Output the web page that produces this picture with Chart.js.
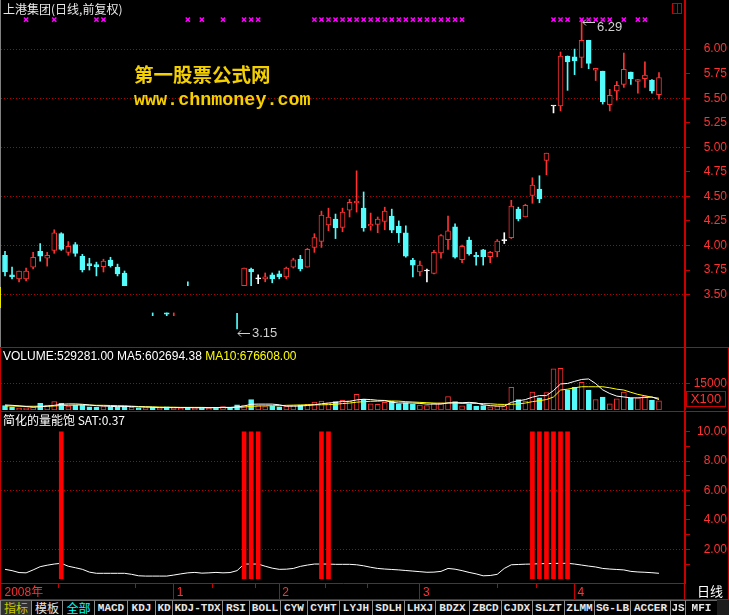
<!DOCTYPE html>
<html>
<head>
<meta charset="utf-8">
<script src="https://cdn.jsdelivr.net/npm/chart.js@4/dist/chart.umd.min.js"></script>
<style>
body{margin:0;background:#000;width:729px;height:615px;overflow:hidden;position:relative;font-family:"Liberation Sans",Arial,sans-serif}
canvas{position:absolute;left:0}
.t{position:absolute;white-space:nowrap;font-size:12px;color:#fff;line-height:14px}
.cjk{font-family:"Noto Sans CJK SC","Liberation Sans",sans-serif}
.ln{position:absolute;background:#c80000}
#bar{position:absolute;left:0;top:600px;height:15px;width:729px;background:#1c1c1c;display:flex}
#bar span{box-sizing:border-box;height:15px;border-left:1px solid #8a8a8a;border-top:1px solid #6a6a6a;background:#000;color:#e6e6e6;
  font:bold 11px "Liberation Mono",monospace;text-align:center;line-height:14px;white-space:nowrap;overflow:hidden}
#bar span.c{font:12px "Noto Sans CJK SC",sans-serif;line-height:14px}
</style>
</head>
<body>
<canvas id="cp" width="729" height="347" style="top:0;width:729px;height:347px"></canvas>
<canvas id="cv" width="729" height="63" style="top:347px;width:729px;height:63px"></canvas>
<canvas id="cs" width="729" height="189" style="top:411px;width:729px;height:189px"></canvas>

<!-- frame -->
<div class="ln" style="left:684px;top:0;width:1px;height:600px"></div>
<div class="ln" style="left:0;top:347px;width:729px;height:1px"></div>
<div class="ln" style="left:0;top:411px;width:729px;height:1px"></div>
<div class="ln" style="left:0;top:599px;width:729px;height:1px"></div>
<div class="ln" style="left:0;top:347px;width:1px;height:253px"></div>
<div class="ln" style="left:728px;top:347px;width:1px;height:253px"></div>
<div style="position:absolute;left:0;top:0;width:1px;height:347px;background:#808080"></div>
<div style="position:absolute;left:0;top:287px;width:1px;height:21px;background:#e8e800"></div>
<div style="position:absolute;left:672px;top:3px;width:8px;height:9px;border:1px solid #c80000"></div>
<div class="ln" style="left:677px;top:3px;width:1px;height:10px"></div>

<!-- texts -->
<div class="t cjk" style="left:3px;top:2px;color:#e8e8e8">上港集团(日线,前复权)</div>
<div class="t cjk" style="left:134px;top:63px;font-size:19.5px;line-height:22px;font-weight:bold;color:#f4d000">第一股票公式网</div>
<div class="t" style="left:134px;top:91px;font:bold 18.4px 'Liberation Mono',monospace;line-height:20px;color:#f4d000">www.chnmoney.com</div>
<div class="t" style="left:3px;top:349px">VOLUME:529281.00 MA5:602694.38 <span style="color:#ffff00">MA10:676608.00</span></div>
<div class="t cjk" style="left:3px;top:413px">简化的量能饱 SAT:0.37</div>
<div class="t" style="left:686px;top:391px;width:38px;height:14px;border:1px solid #c80000;color:#ff3232;font-size:13px;text-align:center">X100</div>
<div class="t cjk" style="left:697px;top:584px;font-size:13px">日线</div>

<div id="bar"></div>

<script>
// ---- data ----
const open  = [3.90,3.70,3.66,3.66,3.78,3.94,3.87,3.95,4.12,3.93,4.01,3.89,3.815,3.805,3.785,3.85,3.78,3.72,
  null,null,null,null,null,3.313,null,null,null,null,null,null,null,null,null,null,
  3.59,3.76,3.66,3.66,3.70,3.71,3.68,3.78,3.86,3.78,3.98,4.04,4.21,4.27,4.185,4.36,4.435,4.38,4.20,4.215,4.245,4.30,4.195,4.13,
  3.85,3.73,3.74,3.715,3.925,4.06,4.19,3.855,4.055,3.90,3.955,3.885,3.935,4.05,4.08,4.37,4.29,4.51,4.575,4.865,
  5.42,5.42,5.93,5.92,5.915,6.09,5.785,5.775,5.435,5.575,5.64,5.765,5.67,5.70,5.685,5.535];
const high  = [3.94,3.78,3.74,3.77,3.93,4.02,3.93,4.16,4.13,4.04,4.03,3.91,3.87,3.83,3.86,3.88,3.81,3.74,
  null,null,null,3.313,null,3.313,3.313,null,3.63,null,null,null,null,null,null,3.31,
  3.77,3.77,3.70,3.72,3.72,3.74,3.78,3.87,3.90,3.97,4.12,4.35,4.38,4.32,4.38,4.47,4.76,4.545,4.33,4.29,4.39,4.37,4.25,4.20,
  3.87,3.84,3.76,3.95,4.11,4.30,4.22,4.005,4.085,3.93,3.96,3.94,4.06,4.13,4.46,4.39,4.42,4.69,4.71,4.94,
  5.42,5.97,5.93,6.00,6.29,6.09,5.805,5.775,5.59,5.67,5.96,5.765,5.69,5.87,5.69,5.76];
const low   = [3.69,3.66,3.63,3.64,3.76,3.84,3.79,3.92,3.95,3.90,3.89,3.73,3.75,3.69,3.73,3.78,3.69,3.59,
  null,null,null,3.285,null,3.285,3.285,null,3.59,null,null,null,null,null,null,3.15,
  3.59,3.59,3.61,3.63,3.62,3.66,3.66,3.77,3.74,3.78,3.93,3.98,4.15,4.07,4.14,4.29,4.34,4.145,4.155,4.13,4.16,4.13,4.03,3.88,
  3.68,3.69,3.63,3.71,3.87,3.96,3.87,3.825,3.90,3.80,3.80,3.825,3.885,4.02,4.07,4.25,4.29,4.43,4.435,4.72,
  5.35,5.37,5.58,5.74,5.81,5.80,5.68,5.44,5.37,5.48,5.61,5.64,5.55,5.61,5.55,5.49];
const close = [3.73,3.68,3.74,3.74,3.88,3.89,3.90,4.13,3.96,3.99,3.92,3.75,3.795,3.785,3.84,3.795,3.71,3.59,
  null,null,null,null,null,3.30,null,null,null,null,null,null,null,null,null,null,
  3.77,3.73,3.66,3.68,3.66,3.68,3.77,3.855,3.76,3.96,4.08,4.31,4.29,4.18,4.34,4.44,4.45,4.18,4.215,4.27,4.35,4.155,4.13,3.89,
  3.80,3.80,3.74,3.93,4.10,4.15,3.88,3.99,3.915,3.885,3.885,3.93,4.045,4.05,4.40,4.27,4.41,4.615,4.475,4.94,
  5.42,5.93,5.87,5.88,6.09,5.855,5.805,5.465,5.53,5.63,5.795,5.70,5.69,5.735,5.575,5.71];
// candles with only a tick visible: 1 = up (red), -1 = down (cyan)
const gapDir = {18:1,19:-1,20:1,21:-1,22:1,23:-1,24:1,25:1,26:-1,27:1,28:-1,29:1,30:-1,31:1,32:-1,33:-1};

const vol = [260e3,150e3,110e3,120e3,180e3,380e3,280e3,480e3,380e3,220e3,280e3,300e3,180e3,170e3,200e3,190e3,200e3,240e3,
  150e3,120e3,140e3,150e3,120e3,180e3,130e3,100e3,160e3,120e3,130e3,110e3,140e3,200e3,150e3,300e3,
  280e3,600e3,250e3,200e3,220e3,180e3,230e3,250e3,280e3,320e3,450e3,520e3,420e3,480e3,560e3,530e3,910e3,620e3,350e3,330e3,440e3,500e3,360e3,420e3,
  340e3,280e3,250e3,380e3,420e3,770e3,480e3,240e3,330e3,220e3,250e3,180e3,230e3,240e3,1300e3,600e3,520e3,1030e3,700e3,1000e3,
  2370e3,2400e3,1160e3,1300e3,1600e3,1150e3,600e3,750e3,350e3,650e3,1030e3,700e3,700e3,800e3,550e3,529281];
const ma5 = [290,270,240,200,160,190,220,270,330,350,350,330,290,250,230,210,190,200,200,180,170,160,140,140,140,140,140,130,130,130,140,150,150,180,
  230,330,340,340,340,300,220,220,230,260,300,360,400,440,490,500,580,620,600,560,550,450,400,410,
  400,380,340,340,340,410,420,420,440,410,300,250,230,220,440,530,600,740,830,830,
  1120,1500,1530,1650,1760,1790,1520,1160,950,800,750,700,700,720,750,602.694].map(v => v * 1000);
const ma10 = [230,230,220,215,215,220,220,230,260,270,280,290,280,270,270,260,250,240,220,200,190,180,170,160,160,150,150,150,150,140,140,140,140,150,
  170,210,230,240,250,250,270,280,290,300,300,300,310,330,370,400,450,480,500,510,530,520,510,480,
  460,440,420,400,390,400,410,380,390,380,370,360,330,320,330,350,400,480,540,600,
  750,1150,1200,1280,1340,1340,1340,1340,1280,1200,1150,1020,900,820,740,676.608].map(v => v * 1000);

const sat = [0.64,0.55,0.42,0.40,0.60,0.82,0.92,1.00,1.05,0.85,0.75,0.64,0.45,0.37,0.37,0.37,0.37,0.37,0.30,0.20,
  0.18,0.18,0.18,0.18,0.25,0.33,0.40,0.43,0.38,0.40,0.43,0.40,0.42,0.55,1.00,1.00,1.00,0.85,0.72,0.64,
  0.65,0.70,0.84,0.93,1.00,1.00,1.00,0.98,0.98,0.98,0.95,0.88,0.78,0.70,0.66,0.63,0.60,0.56,0.52,0.48,
  0.44,0.45,0.50,0.70,0.65,0.55,0.43,0.33,0.20,0.22,0.30,0.70,0.95,0.97,0.99,1.00,1.02,1.03,1.04,1.05,
  1.05,1.00,0.93,0.86,0.80,0.70,0.66,0.63,0.60,0.50,0.46,0.44,0.41,0.37];
const satHits = [8,34,35,36,45,46,75,76,77,78,79,80];
const satHitValue = 10;

const signalIdx = [3,7,13,14,26,28,31,34,35,36,44,45,46,47,48,49,50,51,52,53,54,55,56,57,58,59,60,61,62,63,64,65,
  78,79,80,82,83,84,85,86,88,90,91];
const signalLevel = 6.30;

const priceTicks = [3.5,3.625,3.75,3.875,4,4.125,4.25,4.375,4.5,4.625,4.75,4.875,5,5.125,5.25,5.375,5.5,5.625,5.75,5.875,6];
const volTicks = [1500000];
const satTicks = [1,2,3,4,5,6,7,8,9,10];
const monthTicks = [-0.5,24,39,59,81];
const monthLabels = ['2008年','1','2','3','4'];
const minorTicks = [7.5,18.5,29.5,35.5,45.5,51.5,70,75.5];
const hiNote = {i:82, v:6.29};
const loNote = {i:33, v:3.15};
const tabs = ['指标','模板','全部','MACD','KDJ','KD','KDJ-TDX','RSI','BOLL','CYW','CYHT','LYJH','SDLH','LHXJ','BDZX','ZBCD','CJDX','SLZT','ZLMM','SG-LB','ACCER','JS','MFI'];
const tabW = [31,31,32,33,28,17,50,27,31,27,32,33,32,31,34,32,31,32,30,36,40,15,32];

// ---- look ----
const RED = '#ff3232', CYAN = '#54fcfc', WHITE = '#ffffff', AXIS = '#c80000', GRID = '#b40000';
const xMin = -0.57, xMax = 96.7;
const N = open.length;

function dir(i) {
  if (open[i] == null) return gapDir[i] || 1;
  if (close[i] > open[i]) return 1;
  if (close[i] < open[i]) return -1;
  return 0;
}
function lineCol(i) { const d = dir(i); return d > 0 ? RED : d < 0 ? CYAN : WHITE; }
function fillCol(i) { const d = dir(i); return d > 0 ? '#000' : d < 0 ? CYAN : WHITE; }

const bodies = [], wicks = [], volBars = [];
for (let i = 0; i < N; i++) {
  if (open[i] != null) bodies.push({x: i, y: [open[i], close[i]]});
  if (high[i] != null) wicks.push({x: i, y: [low[i], high[i]]});
  volBars.push({x: i, y: vol[i]});
}

const axisFont = {family: 'Liberation Sans', size: 12};
const xHidden = {type: 'linear', min: xMin, max: xMax, display: false, offset: false, grid: {offset: false}};
const base = {
  responsive: false, animation: false, events: [],
  plugins: {legend: {display: false}, tooltip: {enabled: false}},
  layout: {padding: {left: 1, right: 2, top: 0, bottom: 0}, autoPadding: false},
};
// right-hand value axis: fixed width, no extra room above/below
function fitRight(s) { s.width = 42; s.paddingTop = 0; s.paddingBottom = 0; }

// arrow notes for the extreme prices
const notes = {
  id: 'notes',
  afterDatasetsDraw(chart) {
    const {ctx, scales: {x, y}} = chart;
    ctx.save();
    ctx.strokeStyle = '#d0d0d0'; ctx.fillStyle = '#d0d0d0'; ctx.lineWidth = 1;
    ctx.font = '13px "Liberation Sans"'; ctx.textBaseline = 'middle';
    [[hiNote, 1.5, 6.5], [loNote, 4.5, 4.5]].forEach(([n, ay, ty]) => {
      const px = Math.round(x.getPixelForValue(n.i)) + 1, py = Math.round(y.getPixelForValue(n.v) + ay) + 0.5;
      ctx.beginPath();
      ctx.moveTo(px, py); ctx.lineTo(px + 12, py);
      ctx.moveTo(px, py); ctx.lineTo(px + 3, py - 3);
      ctx.moveTo(px, py); ctx.lineTo(px + 3, py + 3);
      ctx.stroke();
      ctx.fillText(n.v.toFixed(2), px + 14, py - 0.5 + (ty - ay));
    });
    ctx.restore();
  }
};

new Chart(document.getElementById('cp'), {
  type: 'bar',
  data: {datasets: [
    {type: 'scatter', data: signalIdx.map(i => ({x: i, y: signalLevel})), pointStyle: 'crossRot',
      pointRadius: 3, borderColor: '#ff00ff', backgroundColor: '#ff00ff', borderWidth: 1.5},
    {data: bodies, grouped: false, barThickness: 5, minBarLength: 1, borderSkipped: false, borderWidth: 1,
      backgroundColor: c => fillCol(c.raw.x), borderColor: c => lineCol(c.raw.x)},
    {data: wicks, grouped: false, barThickness: 1, borderWidth: 0, backgroundColor: c => lineCol(c.raw.x)},
  ]},
  options: {...base,
    scales: {
      x: xHidden,
      y: {position: 'right', min: 2.966, max: 6.5,
        afterFit: fitRight,
        afterBuildTicks(s) { s.ticks = priceTicks.map(v => ({value: v})); },
        ticks: {color: RED, font: axisFont, padding: 13, crossAlign: 'far',
          callback: v => (Math.round(v * 1000) % 250 === 0 ? v.toFixed(2) : '')},
        grid: {color: c => (Math.round(c.tick.value * 1000) % 500 === 0 ? GRID : 'transparent'),
          tickColor: AXIS, tickLength: 5, tickBorderDash: []},
        border: {color: AXIS, dash: [1, 2]}},
    }},
  plugins: [notes],
});

new Chart(document.getElementById('cv'), {
  type: 'bar',
  data: {datasets: [
    {type: 'line', data: ma5.map((v, i) => ({x: i, y: v})), borderColor: WHITE, borderWidth: 1, pointRadius: 0},
    {type: 'line', data: ma10.map((v, i) => ({x: i, y: v})), borderColor: '#ffff00', borderWidth: 1, pointRadius: 0},
    {data: volBars, grouped: false, barThickness: 5, borderSkipped: false, borderWidth: 1,
      backgroundColor: c => (dir(c.raw.x) < 0 ? CYAN : '#000'), borderColor: c => (dir(c.raw.x) < 0 ? CYAN : RED)},
  ]},
  options: {...base,
    scales: {
      x: xHidden,
      y: {position: 'right', min: 0, max: 3630000,
        afterFit: fitRight,
        afterBuildTicks(s) { s.ticks = volTicks.map(v => ({value: v})); },
        ticks: {color: RED, font: axisFont, padding: 3, crossAlign: 'far', callback: v => String(v / 100)},
        grid: {color: GRID, tickColor: AXIS, tickLength: 5, tickBorderDash: []},
        border: {color: AXIS, dash: [1, 2]}},
    }},
});

const minorMarks = {
  id: 'minorMarks',
  afterDraw(chart) {
    const {ctx, chartArea, scales: {x}} = chart;
    ctx.save();
    ctx.strokeStyle = AXIS; ctx.lineWidth = 1;
    ctx.beginPath();
    minorTicks.forEach(v => {
      const px = Math.round(x.getPixelForValue(v)) + 0.5;
      ctx.moveTo(px, chartArea.bottom); ctx.lineTo(px, chartArea.bottom + 5);
    });
    ctx.stroke();
    ctx.restore();
  }
};

new Chart(document.getElementById('cs'), {
  type: 'bar',
  data: {datasets: [
    {data: satHits.map(i => ({x: i, y: satHitValue})), grouped: false, barThickness: 4, backgroundColor: '#ff0000', borderWidth: 0},
    {type: 'line', data: sat.map((v, i) => ({x: i, y: v})), borderColor: WHITE, borderWidth: 1, pointRadius: 0},
  ]},
  options: {...base,
    scales: {
      x: {type: 'linear', min: xMin, max: xMax, offset: false, position: 'bottom',
        afterFit(s) { s.height = 17; s.paddingLeft = 0; s.paddingRight = 0; },
        afterBuildTicks(s) { s.ticks = monthTicks.map(v => ({value: v})); },
        ticks: {color: RED, font: {family: 'Liberation Sans, Noto Sans CJK SC', size: 12}, align: 'start',
          labelOffset: 3, padding: -15, maxRotation: 0, autoSkip: false,
          callback: (v, k) => monthLabels[k]},
        grid: {drawOnChartArea: false, offset: false, tickColor: c => (c.index === 0 ? 'transparent' : AXIS), tickLength: 17},
        border: {color: AXIS}},
      y: {position: 'right', min: -0.29, max: 11.41,
        afterFit: fitRight,
        afterBuildTicks(s) { s.ticks = satTicks.map(v => ({value: v})); },
        ticks: {color: RED, font: axisFont, padding: 6, crossAlign: 'far',
          callback: v => (v % 2 === 0 ? v.toFixed(2) : '')},
        grid: {color: c => ([2, 6, 8].includes(c.tick.value) ? GRID : 'transparent'),
          tickColor: AXIS, tickLength: 5, tickBorderDash: []},
        border: {color: AXIS, dash: [1, 2]}},
    }},
  plugins: [minorMarks],
});

// tab strip
const bar = document.getElementById('bar');
tabs.forEach((t, k) => {
  const s = document.createElement('span');
  s.textContent = t;
  s.style.width = tabW[k] + 'px';
  if (k < 3) s.className = 'c';
  if (k === 0) { s.style.color = '#c8c800'; s.style.background = '#303030'; }
  if (k === 2) s.style.color = '#00ffff';
  bar.appendChild(s);
});
</script>
</body>
</html>
